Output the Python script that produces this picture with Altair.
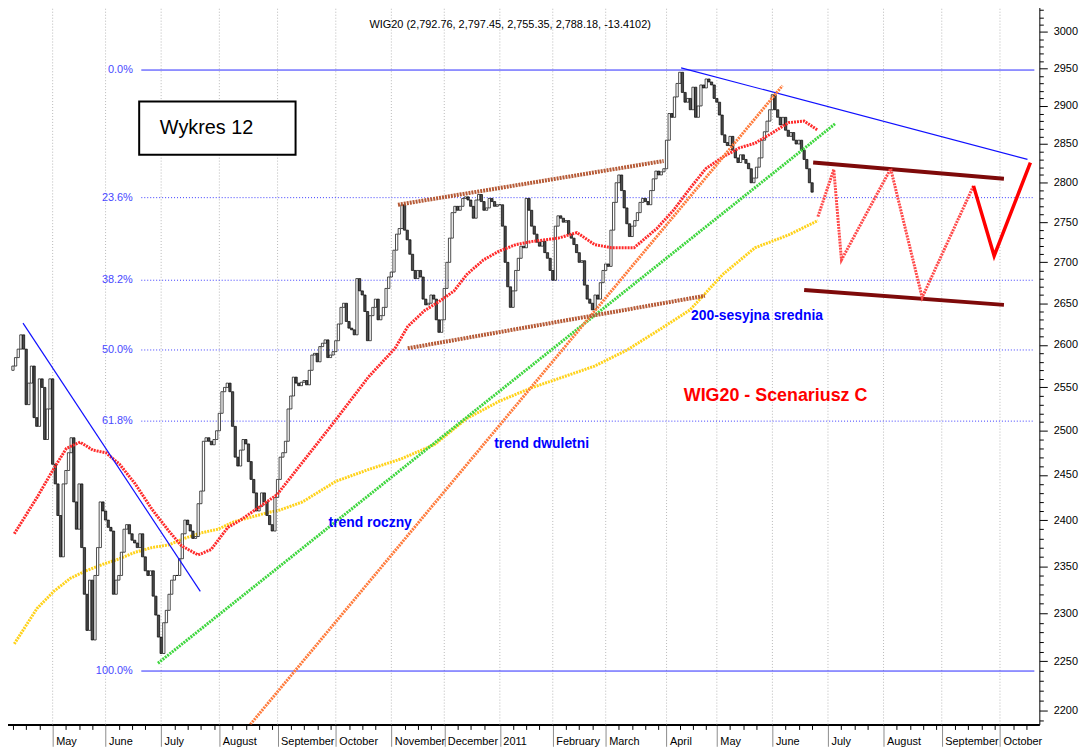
import altair as alt
import pandas as pd

FONT = "Liberation Sans"

# ---------------- price data (session index 0 = first session of May 2010) ----------------
FIRST_SESSION = -15
FIRST_OPEN = 2570
close_apr10 = [2575, 2585, 2595, 2612, 2595, 2530, 2555, 2575, 2515, 2505, 2560, 2550, 2490, 2525, 2560]
close_may10 = [2462, 2440, 2405, 2360, 2440, 2455, 2475, 2492, 2420, 2390, 2440, 2370, 2320, 2282, 2335,
               2272, 2340, 2370, 2420, 2410]
close_jun10 = [2400, 2392, 2388, 2320, 2335, 2340, 2365, 2390, 2395, 2385, 2378, 2375, 2370, 2385, 2360,
               2345, 2340, 2345, 2318, 2298, 2275]
close_jul10 = [2258, 2290, 2303, 2320, 2335, 2340, 2340, 2358, 2385, 2400, 2395, 2388, 2380, 2382, 2418,
               2432, 2488, 2492, 2488, 2484, 2490, 2500]
close_aug10 = [2520, 2545, 2550, 2555, 2545, 2505, 2470, 2460, 2478, 2490, 2485, 2465, 2445, 2430, 2410,
               2415, 2430, 2420, 2405, 2395, 2388, 2425]
close_sep10 = [2445, 2470, 2475, 2488, 2525, 2540, 2562, 2555, 2552, 2556, 2558, 2553, 2570, 2588, 2590,
               2580, 2598, 2602, 2606, 2585, 2588, 2592]
close_oct10 = [2605, 2625, 2645, 2650, 2628, 2620, 2618, 2612, 2680, 2665, 2660, 2640, 2605, 2635, 2645,
               2655, 2630, 2635, 2645, 2668, 2682]
close_nov10 = [2688, 2715, 2735, 2742, 2772, 2740, 2728, 2710, 2690, 2680, 2690, 2682, 2655, 2648, 2650,
               2660, 2655, 2630, 2615, 2630]
close_dec10 = [2668, 2700, 2730, 2762, 2770, 2765, 2770, 2780, 2782, 2778, 2770, 2755, 2778, 2785, 2776,
               2765, 2768, 2780, 2776, 2770, 2772]
close_jan11 = [2772, 2745, 2700, 2670, 2645, 2665, 2690, 2705, 2720, 2718, 2780, 2765, 2745, 2735, 2725,
               2720, 2726, 2712, 2705, 2690]
close_feb11 = [2678, 2745, 2758, 2755, 2750, 2752, 2735, 2730, 2722, 2712, 2700, 2702, 2672, 2655, 2650,
               2642, 2660, 2655, 2675, 2690]
close_mar11 = [2698, 2695, 2740, 2775, 2800, 2810, 2790, 2768, 2748, 2732, 2745, 2752, 2762, 2775, 2780,
               2776, 2772, 2790, 2805, 2815, 2810, 2814, 2818]
close_apr11 = [2855, 2890, 2885, 2912, 2930, 2945, 2918, 2905, 2910, 2895, 2925, 2885, 2900, 2928, 2924,
               2936, 2932, 2928, 2910]
close_may11 = [2905, 2888, 2862, 2852, 2848, 2860, 2842, 2832, 2826, 2836, 2830, 2825, 2818, 2800, 2806,
               2820, 2832, 2855, 2866, 2880, 2895]
close_jun11 = [2915, 2895, 2885, 2875, 2885, 2868, 2860, 2865, 2855, 2850, 2855, 2842, 2830, 2818, 2800, 2788]

closes = (close_apr10 + close_may10 + close_jun10 + close_jul10 + close_aug10 + close_sep10 + close_oct10
          + close_nov10 + close_dec10 + close_jan11 + close_feb11 + close_mar11 + close_apr11
          + close_may11 + close_jun11)

# month boundaries (session index) and labels
month_start = [0, 20, 41, 63, 85, 107, 128, 148, 169, 189, 209, 232, 251, 272, 293, 314, 336, 358]
month_name = ["May", "June", "July", "August", "September", "October", "November", "December", "2011",
              "February", "March", "April", "May", "June", "July", "August", "September", "October"]

# moving averages
ma50_s = [-14.5, -5.9, 0.4, 5.2, 10.4, 15.2, 20.1, 25.3, 31.2, 37.5, 43.9, 48.7, 55.0, 59.9, 66.2, 71.0,
          78.4, 84.8, 93.3, 105.6, 119.3, 129.4, 134.2, 140.5, 146.5, 151.7, 156.5, 162.8, 168.8, 175.1,
          181.4, 191.1, 198.1, 204.8, 211.2, 219.7, 228.3, 234.6, 240.9, 246.8, 253.2, 259.5, 265.4,
          271.7, 278.1, 284.0, 289.2]
ma50_p = [2385, 2425, 2457, 2480, 2487, 2478, 2475, 2462, 2440, 2412, 2388, 2372, 2362, 2368, 2392, 2400,
          2415, 2428, 2460, 2507, 2562, 2596, 2622, 2641, 2653, 2665, 2685, 2703, 2714, 2722,
          2726, 2730, 2737, 2722, 2718, 2718, 2742, 2765, 2793, 2818, 2833, 2845, 2851,
          2864, 2878, 2880, 2868]
ma200_s = [-14.5, -5.9, 0.4, 6.7, 12.6, 19.0, 25.3, 31.2, 37.5, 43.9, 49.8, 56.1, 62.5, 68.4, 74.7, 81.0,
           85.9, 94.4, 107.1, 119.3, 131.6, 144.2, 156.5, 168.8, 181.4, 193.7, 204.8, 217.1, 229.7,
           240.9, 253.2, 265.4, 278.1, 289.2]
ma200_p = [2268, 2305, 2323, 2337, 2345, 2352, 2358, 2365, 2370, 2373, 2380, 2386, 2390, 2398, 2403, 2408,
           2411, 2420, 2443, 2456, 2468, 2484, 2514, 2534, 2550, 2563, 2575, 2594, 2619,
           2642, 2685, 2718, 2734, 2752]

# Fibonacci retracement levels
fib_label = ["0.0%", "23.6%", "38.2%", "50.0%", "61.8%", "100.0%"]
fib_price = [2948, 2781, 2678, 2594, 2511, 2240]
fib_solid = [True, False, False, False, False, True]
FIB_FROM, FIB_TO, FIB_TEXT_AT = 33.5, 371, 30.3

# trend lines: (session1, price1, session2, price2)
down_2010 = [-11.2, 2626, 55.8, 2323]
down_2011 = [237.5, 2951, 368.4, 2830]
trend_roczny = [39.8, 2248, 295.9, 2877]
trend_dwuletni = [74.7, 2186, 275.8, 2927]
channel_top = [130.5, 2772, 230.9, 2828]
channel_bottom = [134.2, 2596, 246.5, 2659]
range_top = [287.4, 2826, 359.5, 2805]
range_bottom = [284.0, 2666, 359.5, 2648]
scen_dot_s = [289.2, 295.2, 298.1, 316.7, 328.6, 348.0]
scen_dot_p = [2757, 2817, 2703, 2818, 2657, 2796]
scen_solid_s = [348.0, 355.8, 369.5]
scen_solid_p = [2796, 2708, 2826]

# annotations
note_text = ["trend roczny", "trend dwuletni", "200-sesyjna srednia"]
note_s = [120.0, 184.8, 266.2]
note_p = [2397, 2485, 2634]
scen_title, scen_title_s, scen_title_p = "WIG20 - Scenariusz C", 273.2, 2540
head_text, head_s, head_p = "WIG20 (2,792.76, 2,797.45, 2,755.35, 2,788.18, -13.4102)", 172.9, 3009
box_s, box_s2, box_p, box_p2 = 32.7, 91.8, 2906, 2836
box_text, box_text_s, box_text_p = "Wykres 12", 40.5, 2871

# ---------------- tables ----------------
sessions = list(range(FIRST_SESSION, FIRST_SESSION + len(closes)))
opens = [FIRST_OPEN] + closes[:-1]
candles = pd.DataFrame({"s": sessions, "p": opens, "p2": closes})

weekly = []
for i, m in enumerate(month_start):
    nxt = month_start[i + 1] if i + 1 < len(month_start) else 371
    k = m + 5
    while k < nxt - 1:
        weekly.append(k)
        k += 5
k = -15
while k < 0:
    weekly.append(k)
    k += 5
tick_vals = sorted(set(weekly + month_start))

ms_js = "[" + ",".join(str(v) for v in month_start) + "]"
mn_js = "[" + ",".join("'" + n + "'" for n in month_name) + "]"
is_month = f"indexof({ms_js}, datum.value) >= 0"
x_label_expr = f"{is_month} ? {mn_js}[indexof({ms_js}, datum.value)] : ''"

x_axis = alt.Axis(
    values=tick_vals, labelExpr=x_label_expr, title=None, grid=False,
    domainColor="black", domainWidth=2,
    tickSize={"condition": {"test": is_month, "value": 22}, "value": 5},
    tickColor={"condition": {"test": is_month, "value": "#8c8c8c"}, "value": "black"},
    tickWidth=1, labelAlign="left", labelOffset=3, labelPadding=-11, labelBaseline="top",
    labelFont=FONT, labelFontSize=11, labelColor="black", labelFlush=False, labelOverlap=False,
)
y_vals = list(range(2190, 3041, 10))
y_axis = alt.Axis(
    orient="right", values=y_vals, title=None, grid=False,
    labelExpr="datum.value % 50 === 0 ? format(datum.value, 'd') : ''",
    tickSize={"condition": {"test": "datum.value % 50 === 0", "value": 8}, "value": 4},
    tickColor="black", domainColor="black", labelPadding=6, labelFont=FONT, labelFontSize=11,
    labelColor="black", labelOverlap=False, labelFlush=False,
)

xs = alt.Scale(domain=[-18, 371], nice=False, zero=False)
ys = alt.Scale(type="log", domain=[2186, 3040], nice=False)
X = alt.X("s:Q", scale=xs, axis=x_axis)
Y = alt.Y("p:Q", scale=ys, axis=y_axis)


def seg_df(name, seg):
    return pd.DataFrame({"s": [seg[0], seg[2]], "p": [seg[1], seg[3]], "g": [name, name]})


def with_order(df):
    df = df.copy()
    df["o"] = range(len(df))
    return df


def line_layer(df, color, width, dash=None):
    kw = dict(color=color, strokeWidth=width, clip=True)
    if dash:
        kw["strokeDash"] = dash
    return alt.Chart(with_order(df)).mark_line(**kw).encode(x=X, y=Y, detail="g:N", order="o:Q")


grid_df = pd.DataFrame({"s": month_start})
grid = alt.Chart(grid_df).mark_rule(color="#b8b8b8", strokeDash=[1, 2], strokeWidth=1).encode(x=X)

fib_df = pd.DataFrame({"s": [FIB_FROM] * 6, "s2": [FIB_TO] * 6, "p": fib_price,
                       "solid": fib_solid, "t": fib_label, "st": [FIB_TEXT_AT] * 6})
fib_solid_l = alt.Chart(fib_df[fib_df.solid]).mark_rule(color="#2a2aff", strokeWidth=1).encode(
    x=X, x2="s2:Q", y=Y)
fib_dot_l = alt.Chart(fib_df[~fib_df.solid]).mark_rule(color="#3a3aff", strokeWidth=1,
                                                       strokeDash=[1, 2]).encode(x=X, x2="s2:Q", y=Y)
fib_txt = alt.Chart(fib_df).mark_text(align="right", baseline="middle", color="#4848ff", font=FONT,
                                      fontSize=11).encode(x=alt.X("st:Q", scale=xs, axis=x_axis), y=Y,
                                                          text="t:N")

cand = alt.Chart(candles).mark_bar(width=2.3, stroke="black", strokeWidth=0.7, clip=True).encode(
    x=X, y=Y, y2="p2:Q",
    fill=alt.condition("datum.p2 >= datum.p", alt.value("white"), alt.value("#4d4d4d")))

ma50 = line_layer(pd.DataFrame({"s": ma50_s, "p": ma50_p, "g": "ma50"}), "#ff2a2a", 3, [2, 1])
ma200 = line_layer(pd.DataFrame({"s": ma200_s, "p": ma200_p, "g": "ma200"}), "#ffd21a", 3, [2, 1])

blue_l = line_layer(pd.concat([seg_df("d10", down_2010), seg_df("d11", down_2011)]), "#1010ff", 1.2)
green_l = line_layer(seg_df("roczny", trend_roczny), "#3ed63e", 3, [2, 1])
orange_l = line_layer(seg_df("dwuletni", trend_dwuletni), "#ff7a3a", 3, [2, 1])
brown_l = line_layer(pd.concat([seg_df("ct", channel_top), seg_df("cb", channel_bottom)]), "#b65a36", 4, [2, 1])
dred_l = line_layer(pd.concat([seg_df("rt", range_top), seg_df("rb", range_bottom)]), "#7e0a0a", 4)
zig_dot = line_layer(pd.DataFrame({"s": scen_dot_s, "p": scen_dot_p, "g": "zd"}), "#ff4a4a", 3, [2, 1])
zig_solid = line_layer(pd.DataFrame({"s": scen_solid_s, "p": scen_solid_p, "g": "zs"}), "#ff0000", 3.5)

notes_df = pd.DataFrame({"s": note_s, "p": note_p, "t": note_text})
notes = alt.Chart(notes_df).mark_text(font=FONT, fontSize=14, fontWeight="bold", color="#0000ff",
                                      align="center", baseline="middle").encode(x=X, y=Y, text="t:N")
scen_df = pd.DataFrame({"s": [scen_title_s], "p": [scen_title_p], "t": [scen_title]})
scen = alt.Chart(scen_df).mark_text(font=FONT, fontSize=18, fontWeight="bold", color="#ff0000",
                                    align="center", baseline="middle").encode(x=X, y=Y, text="t:N")
head_df = pd.DataFrame({"s": [head_s], "p": [head_p], "t": [head_text]})
head = alt.Chart(head_df).mark_text(font=FONT, fontSize=11, color="black", align="center",
                                    baseline="middle").encode(x=X, y=Y, text="t:N")
box_df = pd.DataFrame({"s": [box_s], "s2": [box_s2], "p": [box_p], "p2": [box_p2]})
box = alt.Chart(box_df).mark_rect(fill="white", stroke="black", strokeWidth=2).encode(
    x=X, x2="s2:Q", y=Y, y2="p2:Q")
boxt_df = pd.DataFrame({"s": [box_text_s], "p": [box_text_p], "t": [box_text]})
boxt = alt.Chart(boxt_df).mark_text(font=FONT, fontSize=20, color="black", align="left",
                                    baseline="middle").encode(x=X, y=Y, text="t:N")

chart = alt.layer(
    grid, fib_solid_l, fib_dot_l, fib_txt, ma200, cand, ma50, blue_l, green_l, orange_l, brown_l,
    dred_l, zig_dot, zig_solid, notes, scen, head, box, boxt
).properties(
    width=1047, height=727, background="white",
    autosize=alt.AutoSizeParams(type="none"),
    padding={"left": -8, "top": -8, "right": 45, "bottom": 24},
).configure_view(strokeWidth=0)

chart.save("out.html", embed_options={"renderer": "svg", "actions": False})
